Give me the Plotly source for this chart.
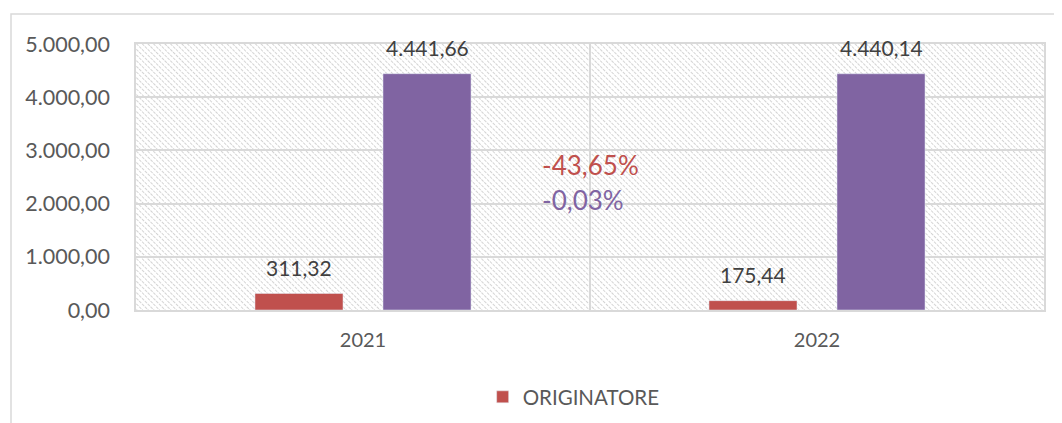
import base64
import plotly.graph_objects as go

years = ["2021", "2022"]
originatore = [311.32, 175.44]
totale = [4441.66, 4440.14]
y_ticks = [0, 1000, 2000, 3000, 4000, 5000]

RED = "#C0504D"
PURPLE = "#8064A2"
TXT = "#595959"
LBL = "#404040"
GRID = "#D9D9D9"
FONT = "Lato"

def pct(a, b):
    v = (b - a) / a * 100
    return f"{v:.2f}".replace(".", ",") + "%"

def it(v):
    s = f"{v:,.2f}"
    return s.replace(",", "X").replace(".", ",").replace("X", ".")

# figure is placed with the page's 8px body margin, so size/margins compensate
FW, FH = 1054, 415
ML, MR, MT, MB = 128, 18, 36, 113
W, H = FW - ML - MR, FH - MT - MB

svg = f'''<svg xmlns="http://www.w3.org/2000/svg" width="{W}" height="{H}" viewBox="0 0 {W} {H}">
<defs><pattern id="p" width="4" height="4" patternUnits="userSpaceOnUse" patternTransform="rotate(-45)">
<rect width="4" height="4" fill="white"/><line x1="0" y1="0" x2="0" y2="4" stroke="#CDCDCD" stroke-width="1.7" stroke-dasharray="3 1"/></pattern></defs>
<rect width="{W}" height="{H}" fill="url(#p)"/></svg>'''
src = "data:image/svg+xml;base64," + base64.b64encode(svg.encode()).decode()

fig = go.Figure()
fig.add_trace(go.Bar(x=years, y=originatore, name="ORIGINATORE", marker_color=RED))
fig.add_trace(go.Bar(x=years, y=totale, name="TOTALE", marker_color=PURPLE, showlegend=False))

# data labels (x given as category index)
for i in range(len(years)):
    for vals, dx in ((originatore, -64), (totale, 64)):
        fig.add_annotation(x=i, y=vals[i], xref="x", yref="y", text=it(vals[i]),
                           showarrow=False, xshift=dx, yshift=26, yanchor="middle",
                           font=dict(color=LBL, size=21, family=FONT))

fig.add_annotation(x=0.39, y=2730, xref="x", yref="y", text=pct(originatore[0], originatore[1]),
                   showarrow=False, xanchor="left", font=dict(color=RED, size=26, family=FONT))
fig.add_annotation(x=0.39, y=2060, xref="x", yref="y", text=pct(totale[0], totale[1]),
                   showarrow=False, xanchor="left", font=dict(color=PURPLE, size=26, family=FONT))

# outer chart border
fig.add_shape(type="rect", xref="paper", yref="paper",
              x0=-(125 / W), x1=1.3, y0=-1.0, y1=1 + 30 / H,
              line=dict(color=GRID, width=1.5), fillcolor="rgba(0,0,0,0)", layer="below")

fig.add_layout_image(source=src, xref="paper", yref="paper", x=0, y=1, sizex=1, sizey=1,
                     xanchor="left", yanchor="top", sizing="stretch", layer="below")

fig.update_layout(
    width=FW, height=FH,
    margin=dict(l=ML, r=MR, t=MT, b=MB, autoexpand=False),
    paper_bgcolor="white", plot_bgcolor="rgba(0,0,0,0)",
    separators=",.",
    barmode="group", bargap=0.436, bargroupgap=0.3125,
    font=dict(family=FONT, color=TXT, size=21),
    showlegend=True,
    legend=dict(orientation="h", x=0.482, xanchor="center", y=-(87 / H), yanchor="middle",
                font=dict(size=20.5, color=TXT, family=FONT), bgcolor="rgba(0,0,0,0)"),
)
fig.update_xaxes(
    type="category", range=[-0.5, 1.5], tickson="boundaries", showgrid=True,
    gridcolor=GRID, gridwidth=1.5,
    showline=True, linecolor=GRID, linewidth=1.5, mirror=True, ticks="",
    ticklabelstandoff=11, tickfont=dict(size=20, color=TXT), tickangle=0,
)
fig.update_yaxes(
    range=[0, 5000], tickvals=y_ticks, tickformat=",.2f",
    showgrid=True, gridcolor=GRID, gridwidth=1.5, zeroline=False,
    showline=True, linecolor=GRID, linewidth=1.5, mirror=True, ticks="",
    ticklabelstandoff=20, tickfont=dict(size=21.5, color=TXT),
)

fig.write_html("out.html")
